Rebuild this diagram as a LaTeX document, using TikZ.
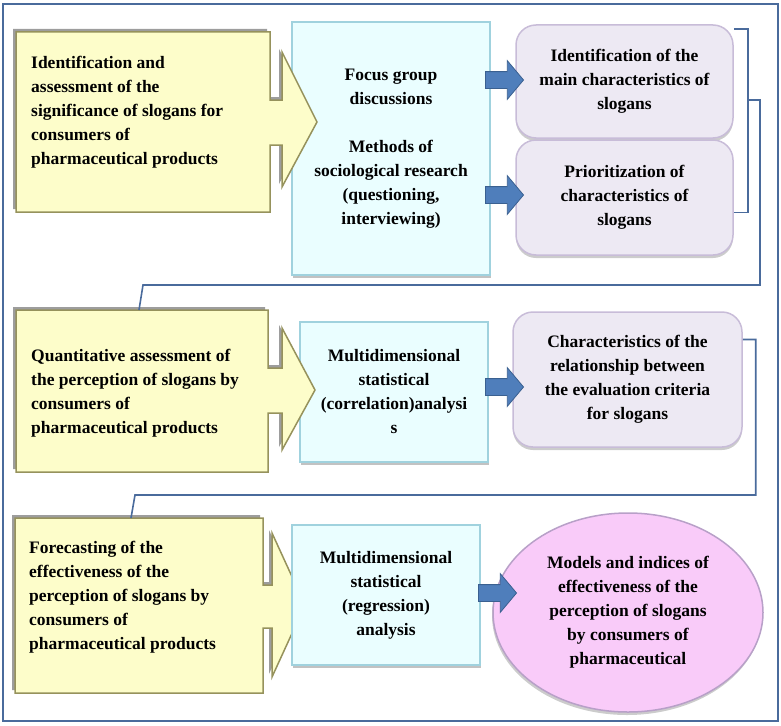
\documentclass[tikz,border=0pt]{standalone}
\usepackage{fontspec}
\setmainfont{Liberation Serif}
\usepackage{tikz}
\usepackage{xcolor}
\usetikzlibrary{shapes.geometric,shapes.arrows,shadows}
\definecolor{yelfill}{RGB}{253,253,202}
\definecolor{yeldraw}{RGB}{150,146,92}
\definecolor{cyanfill}{RGB}{234,254,255}
\definecolor{cyandraw}{RGB}{160,210,222}
\definecolor{purfill}{RGB}{237,233,243}
\definecolor{purdraw}{RGB}{200,188,216}
\definecolor{pinkfill}{RGB}{249,203,249}
\definecolor{pinkdraw}{RGB}{184,160,200}
\definecolor{arrfill}{RGB}{79,126,187}
\definecolor{arrdraw}{RGB}{58,96,144}
\definecolor{linkcol}{RGB}{74,107,156}
\tikzset{
  frame/.style={draw=linkcol,line width=2pt},
  yelbox/.style={fill=yelfill,draw=yeldraw,line width=1.5pt,
    drop shadow={shadow xshift=-3pt,shadow yshift=3pt,fill=black!55,opacity=.7}},
  cyanbox/.style={rectangle,fill=cyanfill,draw=cyandraw,line width=1.5pt,align=center,
    drop shadow={shadow xshift=1pt,shadow yshift=-3pt,fill=black!40,opacity=.6}},
  purbox/.style={rectangle,rounded corners=20pt,fill=purfill,draw=purdraw,line width=1.5pt,align=center,
    drop shadow={shadow xshift=0pt,shadow yshift=-3pt,fill=black!40,opacity=.5}},
  resultell/.style={ellipse,fill=pinkfill,draw=pinkdraw,line width=1.5pt,align=center,
    drop shadow={shadow xshift=-1pt,shadow yshift=-3pt,fill=black!40,opacity=.5}},
  blockarrow/.style={single arrow,fill=arrfill,draw=arrdraw,line width=.8pt,inner sep=8pt,
    minimum height=38pt,single arrow head extend=11pt,single arrow tip angle=100},
  ytext/.style={align=left,anchor=west,inner sep=0pt},
  link/.style={draw=linkcol,line width=1.6pt}
}
\begin{document}
\begin{tikzpicture}[x=1pt,y=-1pt,font=\fontsize{17.5}{24}\selectfont\bfseries]
\useasboundingbox (0,0) rectangle (781,725);
\draw[frame] (3,4) rectangle (778,721);

% first step
\node[cyanbox,minimum width=198pt,minimum height=253pt] (c1) at (391,148.5)
  {Focus group\\discussions\\[24pt]Methods of\\sociological research\\(questioning,\\interviewing)};
\filldraw[yelbox] (16,32) -- (270,32) -- (270,100) -- (282,100) -- (282,52) -- (317,122)
  -- (282,187) -- (282,145) -- (270,145) -- (270,212) -- (16,212) -- cycle;
\node[ytext] (y1) at (31,112) {Identification and\\assessment of the\\significance of slogans for\\consumers of\\pharmaceutical products};
\node[purbox,minimum width=217pt,minimum height=113pt] (p1) at (624.5,81.5)
  {Identification of the\\main characteristics of\\slogans};
\node[purbox,minimum width=217pt,minimum height=115pt] (p2) at (624.5,197.5)
  {Prioritization of\\characteristics of\\slogans};
\node[blockarrow] (a1) at (501,80) {};
\node[blockarrow] (a2) at (501,195) {};

% second step
\node[cyanbox,minimum width=188pt,minimum height=140pt] (c2) at (394,392)
  {Multidimensional\\statistical\\(correlation)analysi\\s};
\filldraw[yelbox] (16,310) -- (268,310) -- (268,368) -- (282,368) -- (282,328) -- (315,390)
  -- (282,450) -- (282,413) -- (268,413) -- (268,472) -- (16,472) -- cycle;
\node[ytext] (y2) at (31,393) {Quantitative assessment of\\the perception of slogans by\\consumers of\\pharmaceutical products};
\node[purbox,minimum width=229pt,minimum height=135pt] (p3) at (627.5,379.5)
  {Characteristics of the\\relationship between\\the evaluation criteria\\for slogans};
\node[blockarrow] (a3) at (501,387) {};

% third step
\filldraw[yelbox] (15,518) -- (263,518) -- (263,585) -- (272,585) -- (272,533) -- (305,605)
  -- (272,677) -- (272,628) -- (263,628) -- (263,693) -- (15,693) -- cycle;
\node[ytext] (y3) at (29,597) {Forecasting of the\\effectiveness of the\\perception of slogans by\\consumers of\\pharmaceutical products};
\node[cyanbox,minimum width=188pt,minimum height=140pt] (c3) at (386,595)
  {Multidimensional\\statistical\\(regression)\\analysis};
\node[resultell,minimum width=270pt,minimum height=199pt] (ell) at (628,612.5)
  {Models and indices of\\effectiveness of the\\perception of slogans\\by consumers of\\pharmaceutical};
\node[blockarrow] (a4) at (494,593) {};

% links between the steps
\coordinate (brmid) at (747,100);
\coordinate (y2top) at (139,310);
\coordinate (y3top) at (131,518);
\draw[link] ([yshift=-5pt]p1.north east) -- ++(14,0) |- ([yshift=-15pt]p2.east);
\draw[link] (brmid) -- ++(13,0) |- ([xshift=4pt,yshift=25pt]y2top) -- (y2top);
\draw[link] ([yshift=40pt]p3.east) -- ++(13,0) |- ([xshift=4pt,yshift=23pt]y3top) -- (y3top);
\end{tikzpicture}
\end{document}
